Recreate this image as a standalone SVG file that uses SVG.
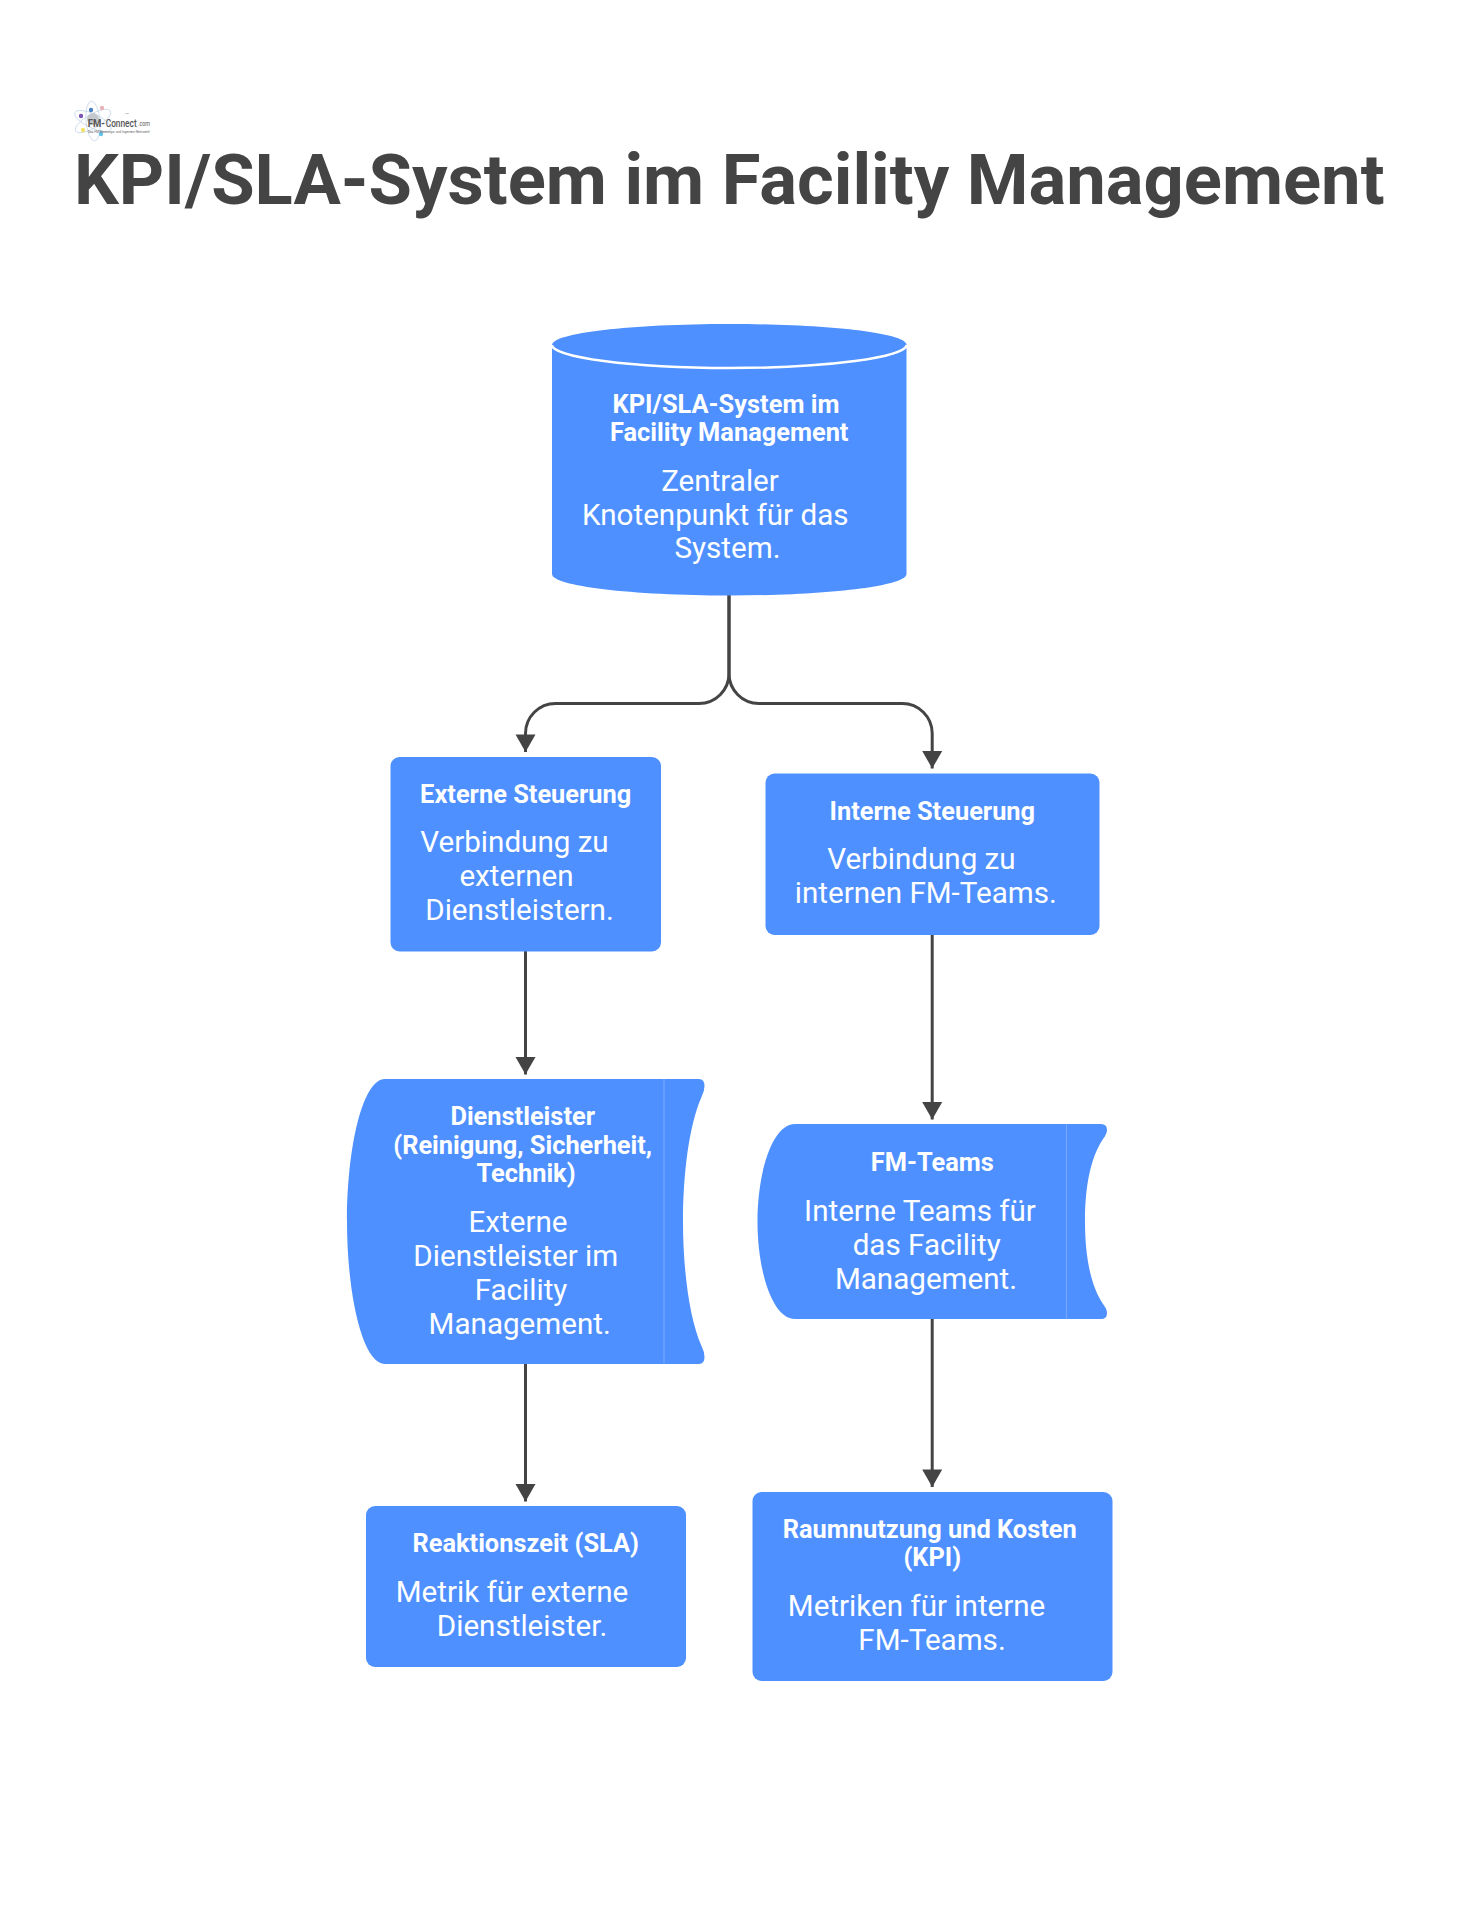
<svg xmlns="http://www.w3.org/2000/svg" width="1461" height="1920" viewBox="0 0 1461 1920">
<style>
text{font-family:Roboto,"Liberation Sans",sans-serif}
.t{font-size:25.4px;font-weight:700;fill:#fff;text-anchor:middle}
.b{font-size:29.6px;font-weight:400;fill:#fff;text-anchor:middle}
.n{fill:#4e90ff}
.lk{fill:none;stroke:#444;stroke-width:3}
.sep{stroke:#74a7ff;stroke-width:1.2}
.orb{fill:none;stroke:#c5d6ea;stroke-width:.8}
.lg{fill:#555}
</style>
<defs>
<marker id="ah" markerUnits="userSpaceOnUse" markerWidth="20" markerHeight="22" refX="18" refY="10.5" orient="auto"><path d="M0.5 0.5 L18 10.5 L0.5 20.5 Z" fill="#444"/></marker>
</defs>
<rect width="1461" height="1920" fill="#fff"/>
<g id="logo">
<ellipse class="orb" cx="93" cy="121" rx="20" ry="7" transform="rotate(25 93 121)"/>
<ellipse class="orb" cx="93" cy="121" rx="20" ry="7" transform="rotate(-30 93 121)"/>
<ellipse class="orb" cx="93" cy="121" rx="20" ry="7" transform="rotate(85 93 121)"/>
<circle cx="93" cy="119" r="6" fill="#c4c7cc"/>
<circle cx="81" cy="116" r="2.2" fill="#7b55b5"/>
<circle cx="91" cy="110" r="2.2" fill="#4a80c4"/>
<circle cx="102" cy="108" r="2.2" fill="#e8b4b8"/>
<circle cx="83" cy="130" r="2.2" fill="#f4e36a"/>
<circle cx="101" cy="134" r="2.2" fill="#62c3e8"/>
<text class="lg" x="87.7" y="127" font-size="11" font-weight="700" textLength="17.3" lengthAdjust="spacingAndGlyphs">FM-</text>
<text class="lg" x="105.7" y="127" font-size="11.5" font-weight="500" textLength="31" lengthAdjust="spacingAndGlyphs">Connect</text>
<text class="lg" x="138" y="126" font-size="7" textLength="12" lengthAdjust="spacingAndGlyphs">.com</text>
<text x="125" y="114" font-size="2.5" fill="#777">TM</text>
<text x="88" y="133" font-size="3" fill="#666" textLength="62" lengthAdjust="spacingAndGlyphs">Das FM-Beratungs- und Ingenieur-Netzwerk!</text>
</g>
<text id="title" x="74" y="203.5" font-size="70.55" font-weight="700" fill="#444">KPI/SLA-System im Facility Management</text>
<g id="connectors">
<path class="lk" d="M729 595 V673.5 A30 30 0 0 1 699 703.5 H555.5 A30 30 0 0 0 525.5 733.5 V752" marker-end="url(#ah)"/>
<path class="lk" d="M729 595 V673.5 A30 30 0 0 0 759 703.5 H902.2 A30 30 0 0 1 932.2 733.5 V768.5" marker-end="url(#ah)"/>
<path class="lk" d="M525.5 951 V1074.5" marker-end="url(#ah)"/>
<path class="lk" d="M932.2 935 V1119.5" marker-end="url(#ah)"/>
<path class="lk" d="M525.5 1364 V1501.5" marker-end="url(#ah)"/>
<path class="lk" d="M932.2 1319 V1487" marker-end="url(#ah)"/>
</g>
<g id="node-system">
<path class="n" d="M552 345 C552 333 631 324 729.5 324 C828 324 906.5 333 906.5 345 V574 C906.5 586 828 595.5 729.5 595.5 C631 595.5 552 586 552 574 Z"/>
<path d="M552 345 C552 357 631 368 729.5 368 C828 368 906.5 357 906.5 345" fill="none" stroke="#fff" stroke-width="2.5"/>
<text class="t" x="726" y="412.9">KPI/SLA-System im</text>
<text class="t" x="729.2" y="440.9">Facility Management</text>
<text class="b" x="720" y="490.9">Zentraler</text>
<text class="b" x="715.3" y="525">Knotenpunkt für das</text>
<text class="b" x="727.5" y="558.4">System.</text>
</g>
<g id="node-extern">
<rect class="n" x="390.5" y="757" width="270.5" height="194.5" rx="9"/>
<text class="t" x="525.7" y="802.8">Externe Steuerung</text>
<text class="b" x="514.5" y="852.2">Verbindung zu</text>
<text class="b" x="516.5" y="886.2">externen</text>
<text class="b" x="519.5" y="920.2">Dienstleistern.</text>
</g>
<g id="node-intern">
<rect class="n" x="765.5" y="773.5" width="334" height="161.5" rx="9"/>
<text class="t" x="932.3" y="819.8">Interne Steuerung</text>
<text class="b" x="921.4" y="869.4">Verbindung zu</text>
<text class="b" x="925.8" y="903.4">internen FM-Teams.</text>
</g>
<g id="node-dienstleister">
<path class="n" d="M385 1079 H699 Q704.5 1079 704.5 1086 Q704.5 1091 701.5 1097 C689 1125 683 1175 683 1221.5 C683 1268 689 1318 701.5 1346 Q704.5 1352 704.5 1357 Q704.5 1364 699 1364 H385 C362 1364 347 1293 347 1221.5 C347 1150 362 1079 385 1079 Z"/>
<line class="sep" x1="664" y1="1079" x2="664" y2="1364"/>
<text class="t" x="522.7" y="1125.4">Dienstleister</text>
<text class="t" x="522.7" y="1153.6">(Reinigung, Sicherheit,</text>
<text class="t" x="526" y="1181.7">Technik)</text>
<text class="b" x="518" y="1231.6">Externe</text>
<text class="b" x="515.8" y="1265.6">Dienstleister im</text>
<text class="b" x="521" y="1299.6">Facility</text>
<text class="b" x="519.7" y="1333.6">Management.</text>
</g>
<g id="node-fmteams">
<path class="n" d="M795 1124 H1101 Q1107 1124 1107 1130 Q1107 1134 1103 1139 C1091 1157 1085 1185 1085 1221.5 C1085 1258 1091 1286 1103 1304 Q1107 1309 1107 1313 Q1107 1319 1101 1319 H795 C772 1319 757.5 1270 757.5 1221.5 C757.5 1173 772 1124 795 1124 Z"/>
<line class="sep" x1="1066.5" y1="1124" x2="1066.5" y2="1319"/>
<text class="t" x="932.3" y="1170.6">FM-Teams</text>
<text class="b" x="920" y="1220.6">Interne Teams für</text>
<text class="b" x="926.7" y="1254.6">das Facility</text>
<text class="b" x="926" y="1288.6">Management.</text>
</g>
<g id="node-sla">
<rect class="n" x="366" y="1506" width="320" height="161" rx="9"/>
<text class="t" x="525.7" y="1552.3">Reaktionszeit (SLA)</text>
<text class="b" x="512" y="1602">Metrik für externe</text>
<text class="b" x="522" y="1636">Dienstleister.</text>
</g>
<g id="node-kpi">
<rect class="n" x="752.5" y="1492" width="360" height="189" rx="9"/>
<text class="t" x="929.7" y="1538">Raumnutzung und Kosten</text>
<text class="t" x="932.3" y="1566.2">(KPI)</text>
<text class="b" x="916.6" y="1616">Metriken für interne</text>
<text class="b" x="932" y="1650.3">FM-Teams.</text>
</g>
</svg>
